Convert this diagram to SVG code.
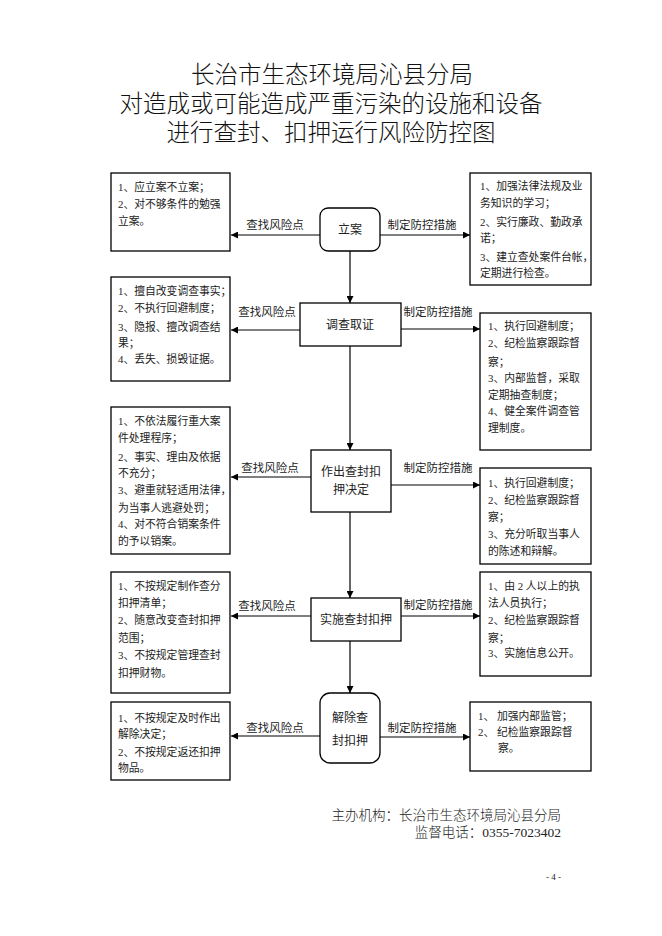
<svg xmlns="http://www.w3.org/2000/svg" width="662" height="936" viewBox="0 0 662 936">
<style>
.title{font-family:"Liberation Serif","Noto Sans CJK SC",serif;font-size:23.5px;font-weight:300;fill:#111;text-anchor:middle}
.box{fill:#fff;stroke:#000;stroke-width:1.3}
.bt{font-family:"Liberation Serif","Noto Sans CJK SC",serif;font-size:10.8px;fill:#222}
.nt{font-family:"Liberation Serif","Noto Sans CJK SC",serif;font-size:12px;fill:#222;text-anchor:middle}
.lbl{font-family:"Liberation Serif","Noto Sans CJK SC",serif;font-size:11.5px;fill:#222;text-anchor:middle}
.ln{stroke:#000;stroke-width:1.2;fill:none}
.ft{font-family:"Liberation Serif","Noto Sans CJK SC",serif;font-size:13.5px;font-weight:300;fill:#222;text-anchor:end}
</style>
<defs>
<marker id="ah" viewBox="0 0 10 10" refX="10" refY="5" markerWidth="7" markerHeight="7" markerUnits="userSpaceOnUse" orient="auto">
<path d="M0,0 L10,5 L0,10 z" fill="#000"/>
</marker>
</defs>
<rect width="662" height="936" fill="#fff"/>
<g id="title">
<text class="title" x="332" y="83">长治市生态环境局沁县分局</text>
<text class="title" x="331" y="112">对造成或可能造成严重污染的设施和设备</text>
<text class="title" x="331" y="141">进行查封、扣押运行风险防控图</text>
</g>
<g id="connectors">
<line class="ln" x1="320" y1="235" x2="231" y2="235" marker-end="url(#ah)"/>
<line class="ln" x1="380" y1="235" x2="470" y2="235" marker-end="url(#ah)"/>
<line class="ln" x1="300" y1="330" x2="231" y2="330" marker-end="url(#ah)"/>
<line class="ln" x1="401" y1="329" x2="480" y2="329" marker-end="url(#ah)"/>
<line class="ln" x1="311" y1="477" x2="231" y2="477" marker-end="url(#ah)"/>
<line class="ln" x1="391" y1="485" x2="480" y2="485" marker-end="url(#ah)"/>
<line class="ln" x1="311" y1="616" x2="231" y2="616" marker-end="url(#ah)"/>
<line class="ln" x1="401" y1="616" x2="480" y2="616" marker-end="url(#ah)"/>
<line class="ln" x1="320" y1="736" x2="231" y2="736" marker-end="url(#ah)"/>
<line class="ln" x1="380" y1="737" x2="470" y2="737" marker-end="url(#ah)"/>
<line class="ln" x1="350" y1="251" x2="350" y2="303" marker-end="url(#ah)"/>
<line class="ln" x1="350" y1="346" x2="350" y2="450" marker-end="url(#ah)"/>
<line class="ln" x1="350" y1="512" x2="350" y2="598" marker-end="url(#ah)"/>
<line class="ln" x1="350" y1="641" x2="350" y2="693" marker-end="url(#ah)"/>
<text class="lbl" x="275" y="229">查找风险点</text>
<text class="lbl" x="422" y="229">制定防控措施</text>
<text class="lbl" x="267" y="316">查找风险点</text>
<text class="lbl" x="438" y="316">制定防控措施</text>
<text class="lbl" x="270" y="472">查找风险点</text>
<text class="lbl" x="438" y="472">制定防控措施</text>
<text class="lbl" x="267" y="610">查找风险点</text>
<text class="lbl" x="438" y="609">制定防控措施</text>
<text class="lbl" x="275" y="732">查找风险点</text>
<text class="lbl" x="422" y="732">制定防控措施</text>
</g>
<g id="n1">
<rect class="box" x="320" y="208" width="60" height="43" rx="8"/>
<text class="nt" x="350" y="234">立案</text>
</g>
<g id="n2">
<rect class="box" x="300" y="303" width="101" height="43"/>
<text class="nt" x="350" y="329">调查取证</text>
</g>
<g id="n3">
<rect class="box" x="311" y="450" width="80" height="62"/>
<text class="nt" x="351" y="476">作出查封扣</text>
<text class="nt" x="351" y="494">押决定</text>
</g>
<g id="n4">
<rect class="box" x="311" y="598" width="90" height="43"/>
<text class="nt" x="356" y="624">实施查封扣押</text>
</g>
<g id="n5">
<rect class="box" x="320" y="693" width="60" height="70" rx="10"/>
<text class="nt" x="350" y="722">解除查</text>
<text class="nt" x="350" y="745">封扣押</text>
</g>
<g id="l1">
<rect class="box" x="111" y="173" width="119" height="78"/>
<text class="bt" x="118" y="191">1、应立案不立案；</text>
<text class="bt" x="118" y="208">2、对不够条件的勉强</text>
<text class="bt" x="118" y="225">立案。</text>
</g>
<g id="r1">
<rect class="box" x="470" y="173" width="121" height="112"/>
<text class="bt" x="480" y="190">1、加强法律法规及业</text>
<text class="bt" x="480" y="207">务知识的学习；</text>
<text class="bt" x="480" y="226">2、实行廉政、勤政承</text>
<text class="bt" x="480" y="242">诺；</text>
<text class="bt" x="480" y="261">3、建立查处案件台帐，</text>
<text class="bt" x="480" y="277">定期进行检查。</text>
</g>
<g id="l2">
<rect class="box" x="111" y="277" width="119" height="104"/>
<text class="bt" x="118" y="295">1、擅自改变调查事实；</text>
<text class="bt" x="118" y="312">2、不执行回避制度；</text>
<text class="bt" x="118" y="331">3、隐报、擅改调查结</text>
<text class="bt" x="118" y="347">果；</text>
<text class="bt" x="118" y="363">4、丢失、损毁证据。</text>
</g>
<g id="r2">
<rect class="box" x="480" y="313" width="111" height="137"/>
<text class="bt" x="488" y="330">1、执行回避制度；</text>
<text class="bt" x="488" y="347">2、纪检监察跟踪督</text>
<text class="bt" x="488" y="366">察；</text>
<text class="bt" x="488" y="382">3、内部监督，采取</text>
<text class="bt" x="488" y="399">定期抽查制度；</text>
<text class="bt" x="488" y="415">4、健全案件调查管</text>
<text class="bt" x="488" y="432">理制度。</text>
</g>
<g id="l3">
<rect class="box" x="111" y="407" width="119" height="147"/>
<text class="bt" x="118" y="425">1、不依法履行重大案</text>
<text class="bt" x="118" y="442">件处理程序；</text>
<text class="bt" x="118" y="461">2、事实、理由及依据</text>
<text class="bt" x="118" y="477">不充分；</text>
<text class="bt" x="118" y="494">3、避重就轻适用法律，</text>
<text class="bt" x="118" y="512">为当事人逃避处罚；</text>
<text class="bt" x="118" y="528">4、对不符合销案条件</text>
<text class="bt" x="118" y="545">的予以销案。</text>
</g>
<g id="r3">
<rect class="box" x="480" y="468" width="111" height="96"/>
<text class="bt" x="488" y="487">1、执行回避制度；</text>
<text class="bt" x="488" y="504">2、纪检监察跟踪督</text>
<text class="bt" x="488" y="521">察；</text>
<text class="bt" x="488" y="538">3、充分听取当事人</text>
<text class="bt" x="488" y="555">的陈述和辩解。</text>
</g>
<g id="l4">
<rect class="box" x="111" y="572" width="119" height="121"/>
<text class="bt" x="118" y="590">1、不按规定制作查分</text>
<text class="bt" x="118" y="607">扣押清单；</text>
<text class="bt" x="118" y="624">2、随意改变查封扣押</text>
<text class="bt" x="118" y="642">范围；</text>
<text class="bt" x="118" y="659">3、不按规定管理查封</text>
<text class="bt" x="118" y="677">扣押财物。</text>
</g>
<g id="r4">
<rect class="box" x="480" y="572" width="111" height="104"/>
<text class="bt" x="488" y="590">1、由 2 人以上的执</text>
<text class="bt" x="488" y="607">法人员执行；</text>
<text class="bt" x="488" y="624">2、纪检监察跟踪督</text>
<text class="bt" x="488" y="642">察；</text>
<text class="bt" x="488" y="657">3、实施信息公开。</text>
</g>
<g id="l5">
<rect class="box" x="111" y="702" width="119" height="78"/>
<text class="bt" x="118" y="722">1、不按规定及时作出</text>
<text class="bt" x="118" y="738">解除决定；</text>
<text class="bt" x="118" y="756">2、不按规定返还扣押</text>
<text class="bt" x="118" y="772">物品。</text>
</g>
<g id="r5">
<rect class="box" x="470" y="702" width="121" height="69"/>
<text class="bt" x="478" y="720">1、 加强内部监管；</text>
<text class="bt" x="478" y="736">2、 纪检监察跟踪督</text>
<text class="bt" x="498" y="752">察。</text>
</g>
<g id="footer">
<text class="ft" x="561" y="820">主办机构：长治市生态环境局沁县分局</text>
<text class="ft" x="561" y="837">监督电话：0355-7023402</text>
<text class="ft" x="561" y="880" style="font-size:9px">- 4 -</text>
</g>
</svg>
